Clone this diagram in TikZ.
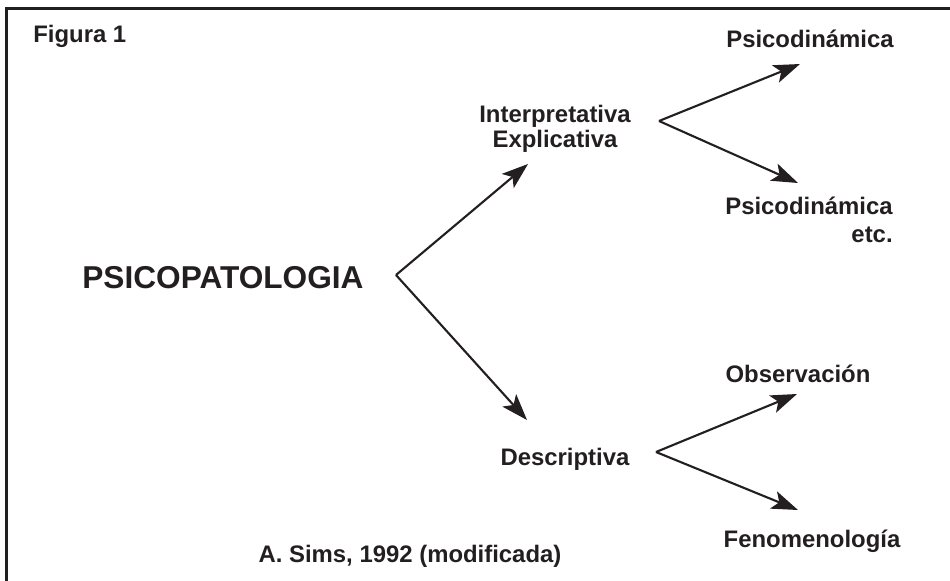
\documentclass[tikz,border=0pt]{standalone}
\usepackage{fontspec}
\setmainfont{Liberation Sans}
\usepackage{xcolor}
\usetikzlibrary{arrows.meta, positioning}
\definecolor{ink}{RGB}{35,31,32}

\begin{document}
\begin{tikzpicture}[x=0.02cm, y=-0.02cm,
        lbl/.style={inner sep=0pt, text=ink, font=\fontsize{13.6}{14.2}\selectfont\bfseries},
        arr/.style={-{Stealth[length=15pt, width=10.5pt, inset=3.5pt]}, line width=1.2pt, draw=ink}
      ]
      \useasboundingbox (0,0) rectangle (950,581);
      \draw[ink, line width=1.5pt] (6.5,581) -- (6.5,8.5) -- (950,8.5);
      \node[lbl, anchor=base west] (fig) at (33,43) {Figura 1};
      \node[lbl, anchor=base west, font=\fontsize{18}{20}\selectfont\bfseries] (psico) at (82,288) {PSICOPATOLOGIA};
      \node[lbl, align=center, anchor=north] (interp) at (555,105) {Interpretativa\\Explicativa};
      \node[lbl, anchor=base] (descr) at (565,465) {Descriptiva};
      \node[lbl, anchor=base] (dyn) at (810,48) {Psicodinámica};
      \node[lbl, align=right, anchor=north east, font=\fontsize{13.6}{15.9}\selectfont\bfseries] (dynetc) at (893,197) {Psicodinámica\\etc.};
      \node[lbl, anchor=base] (obs) at (798,382) {Observación};
      \node[lbl, anchor=base] (fen) at (812,547) {Fenomenología};
      \node[lbl, anchor=base] (src) at (410,562) {A. Sims, 1992 (modificada)};
      \coordinate (fork1) at (396,275);
      \coordinate (fork2) at (659,121);
      \coordinate (fork3) at (656,452);
      \coordinate (toInterp) at (528,164);
      \coordinate (toDescr) at (527,420);
      \coordinate (toDyn) at (800,64);
      \coordinate (toDynEtc) at (798,183);
      \coordinate (toObs) at (797,394);
      \coordinate (toFen) at (798,510);
      \draw[arr] (fork1) -- (toInterp);
      \draw[arr] (fork1) -- (toDescr);
      \draw[arr] (fork2) -- (toDyn);
      \draw[arr] (fork2) -- (toDynEtc);
      \draw[arr] (fork3) -- (toObs);
      \draw[arr] (fork3) -- (toFen);
    \end{tikzpicture}
\end{document}
